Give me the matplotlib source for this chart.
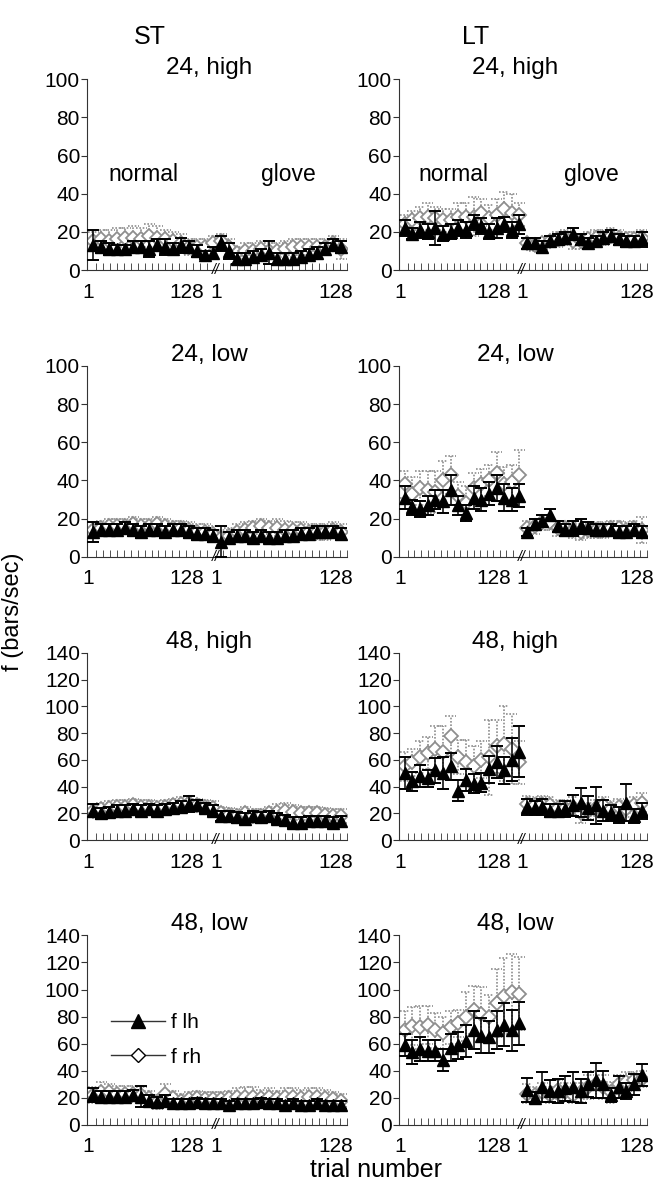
import numpy as np
import matplotlib
matplotlib.use("Agg")
import matplotlib.pyplot as plt
from matplotlib.lines import Line2D

plt.rcParams["font.family"] = ["Liberation Sans", "DejaVu Sans"]

# 16 blocks per condition (normal | glove), trials 1..128
n_blk = 16
tick_labels = ["1", "128", "1", "128"]
col_titles = ["ST", "LT"]
panel_titles = ["24, high", "24, low", "48, high", "48, low"]
y_max = [100, 100, 140, 140]

# ---- ST ----
st_24h_lh = [13, 12, 11, 11, 11, 12, 12, 11, 13, 12, 11, 13, 12, 10, 8, 9,
             14, 10, 6, 6, 7, 8, 9, 6, 6, 6, 7, 8, 9, 11, 13, 12]
st_24h_lh_err = [8, 3, 3, 2, 2, 3, 3, 4, 3, 4, 3, 4, 3, 3, 2, 3,
                 4, 4, 3, 3, 3, 3, 6, 3, 3, 3, 3, 3, 3, 3, 3, 3]
st_24h_rh = [15, 16, 15, 16, 17, 17, 16, 18, 17, 16, 15, 14, 12, 12, 12, 14,
             15, 12, 9, 10, 10, 11, 10, 10, 11, 12, 12, 12, 12, 12, 14, 11]
st_24h_rh_err = [5, 5, 6, 6, 5, 6, 6, 6, 6, 5, 5, 5, 4, 4, 4, 4,
                 4, 4, 3, 4, 4, 4, 4, 4, 4, 4, 4, 4, 4, 4, 4, 5]

st_24l_lh = [13, 14, 14, 14, 15, 14, 13, 14, 14, 13, 14, 14, 13, 12, 12, 11,
             8, 10, 11, 11, 10, 11, 10, 10, 11, 11, 12, 12, 13, 13, 13, 12]
st_24l_lh_err = [5, 3, 3, 3, 3, 3, 3, 3, 3, 3, 3, 3, 3, 3, 3, 3,
                 8, 3, 3, 3, 3, 3, 3, 3, 3, 3, 3, 3, 3, 3, 3, 3]
st_24l_rh = [14, 15, 16, 16, 16, 17, 16, 16, 17, 16, 15, 15, 14, 13, 13, 12,
             10, 11, 13, 14, 15, 16, 15, 15, 14, 14, 14, 13, 13, 13, 14, 13]
st_24l_rh_err = [4, 4, 4, 4, 4, 4, 4, 4, 4, 4, 4, 4, 4, 4, 4, 4,
                 4, 4, 4, 4, 4, 4, 4, 5, 5, 4, 4, 4, 4, 4, 4, 4]

st_48h_lh = [22, 20, 21, 22, 22, 23, 22, 23, 22, 23, 24, 25, 27, 26, 24, 22,
             18, 18, 17, 16, 18, 17, 18, 16, 15, 13, 13, 14, 14, 14, 13, 14]
st_48h_lh_err = [5, 4, 4, 4, 4, 4, 4, 4, 4, 4, 4, 4, 6, 4, 4, 4,
                 4, 4, 4, 4, 4, 4, 4, 4, 4, 4, 4, 4, 4, 4, 4, 4]
st_48h_rh = [22, 23, 24, 25, 25, 26, 25, 25, 24, 25, 26, 27, 28, 26, 25, 24,
             20, 19, 18, 20, 18, 18, 20, 21, 22, 21, 20, 20, 20, 19, 18, 18]
st_48h_rh_err = [5, 5, 5, 5, 5, 5, 5, 5, 5, 5, 5, 5, 5, 5, 5, 5,
                 5, 5, 5, 5, 5, 5, 5, 6, 6, 5, 5, 5, 5, 5, 5, 5]

st_48l_lh = [22, 21, 21, 21, 21, 22, 21, 18, 17, 18, 16, 16, 16, 17, 16, 16,
             16, 15, 16, 16, 16, 17, 16, 16, 15, 16, 15, 15, 16, 15, 15, 15]
st_48l_lh_err = [5, 4, 4, 4, 4, 4, 8, 4, 4, 4, 3, 3, 3, 3, 3, 3,
                 3, 3, 3, 3, 3, 3, 3, 3, 3, 3, 3, 3, 3, 3, 3, 3]
st_48l_rh = [22, 24, 24, 23, 23, 23, 22, 20, 17, 23, 20, 18, 19, 20, 19, 19,
             19, 20, 21, 21, 21, 20, 21, 20, 21, 21, 20, 21, 21, 20, 19, 18]
st_48l_rh_err = [6, 8, 6, 6, 6, 6, 6, 5, 5, 7, 5, 5, 5, 5, 5, 5,
                 5, 5, 6, 7, 7, 6, 6, 5, 6, 6, 6, 6, 6, 6, 5, 5]

# ---- LT ----
lt_24h_lh = [22, 19, 21, 20, 22, 19, 20, 22, 21, 25, 23, 20, 22, 24, 21, 24,
             14, 14, 12, 15, 16, 17, 19, 16, 14, 15, 17, 18, 16, 15, 15, 16]
lt_24h_lh_err = [4, 3, 4, 4, 9, 4, 4, 4, 4, 4, 4, 4, 5, 4, 4, 5,
                 3, 3, 3, 3, 3, 3, 3, 3, 3, 3, 3, 3, 3, 3, 3, 4]
lt_24h_rh = [24, 26, 27, 28, 27, 26, 26, 28, 28, 28, 30, 27, 29, 32, 30, 29,
             14, 13, 14, 15, 16, 17, 15, 15, 16, 17, 17, 18, 17, 16, 16, 17]
lt_24h_rh_err = [5, 5, 6, 7, 6, 6, 6, 7, 7, 10, 7, 7, 8, 9, 10, 6,
                 3, 3, 3, 3, 4, 4, 4, 4, 4, 4, 4, 4, 4, 4, 4, 4]

lt_24l_lh = [31, 26, 25, 27, 30, 29, 35, 27, 23, 31, 30, 33, 36, 31, 30, 32,
             13, 17, 19, 22, 16, 14, 15, 16, 15, 14, 14, 14, 13, 13, 14, 13]
lt_24l_lh_err = [6, 4, 4, 5, 5, 6, 8, 5, 4, 6, 6, 6, 7, 7, 6, 6,
                 2, 3, 3, 3, 3, 3, 4, 4, 3, 3, 3, 3, 3, 3, 3, 3]
lt_24l_rh = [38, 33, 36, 35, 34, 40, 43, 32, 28, 36, 38, 40, 44, 38, 39, 43,
             15, 16, 18, 18, 15, 15, 14, 13, 14, 14, 14, 15, 15, 14, 15, 14]
lt_24l_rh_err = [7, 9, 9, 10, 11, 10, 10, 7, 9, 8, 8, 8, 11, 9, 9, 13,
                 4, 4, 4, 4, 4, 4, 4, 4, 4, 4, 4, 4, 4, 4, 4, 7]

lt_48h_lh = [50, 44, 48, 46, 52, 50, 55, 37, 45, 42, 43, 53, 58, 52, 60, 66,
             25, 24, 25, 22, 22, 23, 26, 28, 24, 26, 22, 20, 19, 28, 18, 22]
lt_48h_lh_err = [12, 7, 8, 6, 9, 12, 10, 8, 8, 7, 7, 10, 12, 10, 16, 19,
                 6, 5, 6, 5, 5, 6, 8, 11, 9, 14, 8, 6, 6, 14, 5, 6]
lt_48h_rh = [55, 58, 62, 65, 68, 66, 78, 62, 58, 55, 60, 62, 70, 72, 68, 58,
             27, 26, 27, 26, 24, 24, 25, 20, 22, 24, 26, 23, 25, 23, 26, 28]
lt_48h_rh_err = [11, 10, 12, 12, 17, 19, 15, 13, 17, 15, 14, 28, 20, 28, 26, 16,
                 6, 6, 6, 6, 6, 6, 7, 7, 6, 6, 6, 6, 6, 6, 6, 7]

lt_48l_lh = [59, 54, 56, 55, 55, 48, 57, 59, 62, 70, 66, 65, 70, 74, 70, 75,
             26, 20, 28, 25, 25, 27, 28, 25, 30, 33, 30, 22, 28, 25, 30, 37]
lt_48l_lh_err = [8, 9, 9, 8, 8, 8, 10, 10, 12, 14, 13, 12, 14, 16, 15, 16,
                 9, 4, 11, 8, 9, 9, 11, 9, 9, 13, 10, 5, 8, 6, 8, 8]
lt_48l_rh = [70, 73, 72, 74, 70, 68, 72, 75, 80, 85, 82, 80, 90, 95, 98, 97,
             23, 22, 24, 22, 26, 24, 22, 24, 28, 30, 28, 24, 30, 32, 33, 34]
lt_48l_rh_err = [14, 14, 16, 14, 13, 12, 12, 10, 18, 18, 20, 16, 25, 28, 28, 27,
                 7, 6, 7, 6, 7, 7, 6, 7, 9, 10, 9, 8, 7, 7, 6, 6]

panels = [
    [(st_24h_lh, st_24h_lh_err, st_24h_rh, st_24h_rh_err),
     (lt_24h_lh, lt_24h_lh_err, lt_24h_rh, lt_24h_rh_err)],
    [(st_24l_lh, st_24l_lh_err, st_24l_rh, st_24l_rh_err),
     (lt_24l_lh, lt_24l_lh_err, lt_24l_rh, lt_24l_rh_err)],
    [(st_48h_lh, st_48h_lh_err, st_48h_rh, st_48h_rh_err),
     (lt_48h_lh, lt_48h_lh_err, lt_48h_rh, lt_48h_rh_err)],
    [(st_48l_lh, st_48l_lh_err, st_48l_rh, st_48l_rh_err),
     (lt_48l_lh, lt_48l_lh_err, lt_48l_rh, lt_48l_rh_err)],
]

# block index along the axis (normal 0..15, glove 16..31)
x = np.arange(2 * n_blk)
brk = 15.3
label_pos = [-0.6, 11.7, 15.3, 30.3]
minor_ticks = np.concatenate([np.arange(0.4, 14.5, 0.86),
                              np.arange(16.2, 31.7, 0.86)])

fig = plt.figure(figsize=(6.58, 12), dpi=100)

col_x = [(0.132, 0.395), (0.606, 0.377)]
row_y = [(0.775, 0.159), (0.536, 0.159), (0.300, 0.156), (0.0625, 0.158)]

grey = "#8e8e8e"
axc = "#333333"
cap = 0.7

for r in range(4):
    for c in range(2):
        lh, lh_e, rh, rh_e = panels[r][c]
        lh = np.array(lh, float)
        lh_e = np.array(lh_e, float)
        rh = np.array(rh, float)
        rh_e = np.array(rh_e, float)
        ax = fig.add_axes([col_x[c][0], row_y[r][0], col_x[c][1], row_y[r][1]])

        # right hand: grey dotted error bars, open diamonds
        ax.vlines(x, rh - rh_e, rh + rh_e, colors=grey, linestyles=(0, (1, 1)),
                  lw=1.2, zorder=2)
        ax.hlines(rh + rh_e, x - cap, x + cap, colors=grey,
                  linestyles=(0, (1, 1)), lw=1.2, zorder=2)
        ax.hlines(rh - rh_e, x - cap, x + cap, colors=grey,
                  linestyles=(0, (1, 1)), lw=1.2, zorder=2)
        ax.plot(x, rh, "D", ms=7.5, mfc="white", mec=grey, mew=1.3,
                linestyle="none", zorder=2.5)

        # left hand: black error bars, filled triangles
        ax.errorbar(x, lh, yerr=lh_e, fmt="^", ms=8.5, mfc="black",
                    mec="black", ecolor="black", elinewidth=1.1, capsize=4.5,
                    capthick=1.4, linestyle="none", zorder=3)

        ax.set_xlim(-0.8, 31.6)
        ax.set_ylim(0, y_max[r])
        ax.set_yticks(np.arange(0, y_max[r] + 1, 20))
        ax.spines["top"].set_visible(False)
        ax.spines["right"].set_visible(False)
        ax.spines["left"].set_color(axc)
        ax.spines["bottom"].set_color(axc)
        ax.tick_params(axis="y", direction="out", length=4, labelsize=15,
                       pad=1, color=axc)
        ax.set_xticks(label_pos)
        ax.set_xticklabels(tick_labels)
        ax.set_xticks(minor_ticks, minor=True)
        ax.tick_params(axis="x", which="major", length=0, labelsize=15, pad=9)
        ax.tick_params(axis="x", which="minor", direction="in", length=5,
                       color=axc)
        ax.text(brk, 0, "//", ha="center", va="center", fontsize=10,
                fontstyle="italic", clip_on=False)

        ax.set_title(panel_titles[r], fontsize=17.5, pad=0, x=0.47)

        if r == 0:
            ax.text(6.3, 50, "normal", ha="center", va="center", fontsize=16.5)
            ax.text(24.4, 50, "glove", ha="center", va="center", fontsize=16.5)

        if r == 3 and c == 0:
            h_lh = Line2D([], [], color=axc, lw=1, marker="^", ms=10,
                          mfc="black", mec="black")
            h_rh = Line2D([], [], color=axc, lw=1, marker="D", ms=7.5,
                          mfc="white", mec="black")
            ax.legend([h_lh, h_rh], ["f lh", "f rh"], loc="upper left",
                      bbox_to_anchor=(0.02, 0.69), frameon=False,
                      fontsize=15, handlelength=2.6, labelspacing=0.75,
                      handletextpad=0.3)

fig.text(0.228, 0.969, col_titles[0], ha="center", va="center", fontsize=18)
fig.text(0.723, 0.969, col_titles[1], ha="center", va="center", fontsize=18)
fig.text(0.019, 0.49, "f (bars/sec)", rotation=90, ha="center", va="center",
         fontsize=17)
fig.text(0.571, 0.025, "trial number", ha="center", va="center", fontsize=18)

fig.savefig("out.png", dpi=100)
